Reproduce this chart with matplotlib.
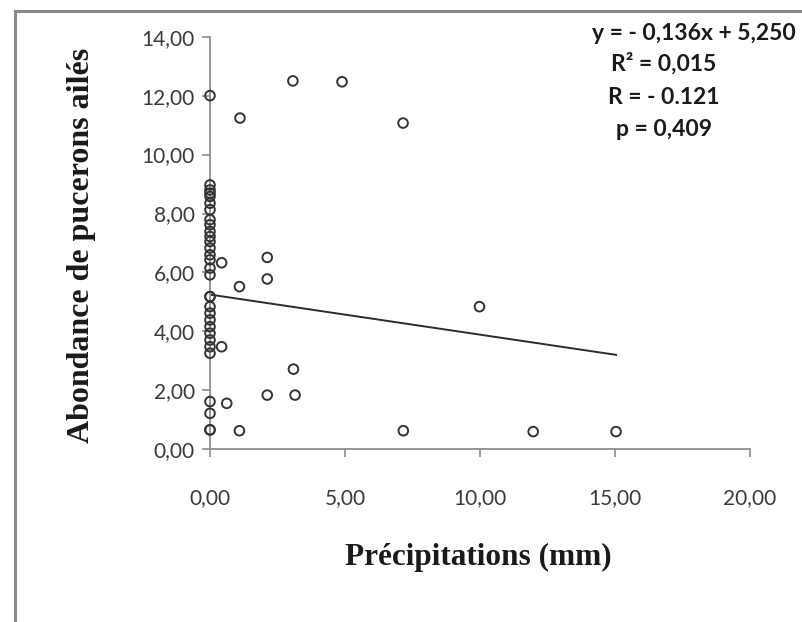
import numpy as np
import matplotlib
matplotlib.use("Agg")
import matplotlib.pyplot as plt
from matplotlib.patches import Rectangle

# rainfall (mm) vs winged aphid abundance
x_zero = [0.0] * 31
y_zero = [12.0, 8.97, 8.80, 8.69, 8.58, 8.35, 8.13, 7.79, 7.62, 7.39, 7.22,
          7.05, 6.83, 6.60, 6.43, 6.15, 5.92, 5.18, 5.18, 4.84, 4.62, 4.39,
          4.16, 3.94, 3.71, 3.48, 3.26, 1.62, 1.22, 0.66, 0.66]
x_other = [1.11, 3.07, 4.89, 7.15, 0.43, 2.12, 2.12, 1.09, 9.98, 0.43, 3.09,
           2.12, 3.15, 0.62, 1.09, 7.16, 11.97, 15.04]
y_other = [11.24, 12.50, 12.47, 11.07, 6.33, 6.51, 5.78, 5.52, 4.84, 3.48,
           2.72, 1.84, 1.84, 1.56, 0.63, 0.63, 0.60, 0.60]

precip = np.array(x_zero + x_other)
abond = np.array(y_zero + y_other)

slope, intercept = -0.136, 5.250
stats = ["y = - 0,136x + 5,250", "R² = 0,015", "R = - 0.121", "p = 0,409"]

fig = plt.figure(figsize=(8.03, 6.22), dpi=100)
fig.patch.set_facecolor("white")

# outer chart frame (left and top visible)
fig.patches.append(Rectangle((15 / 803, -0.1), 1.2, (622 - 11) / 622 + 0.1,
                             transform=fig.transFigure, fill=False,
                             edgecolor="#8a8a8a", linewidth=2.2))

ax = fig.add_axes([210 / 803, (622 - 449.3) / 622, 540 / 803, 412.6 / 622])
ax.scatter(precip, abond, s=48, facecolors="none", edgecolors="#333333",
           linewidths=1.4, zorder=3, clip_on=False)

xl = np.array([0, precip.max()])
ax.plot(xl, slope * xl + intercept, color="#2b2b2b", linewidth=1.4, zorder=2)

ax.set_xlim(0, 20)
ax.set_ylim(0, 14)
ax.set_xticks([0, 5, 10, 15, 20])
ax.set_yticks(np.arange(0, 15, 2))
fmt = lambda v: f"{v:.2f}".replace(".", ",")
ax.set_xticklabels([fmt(v) for v in [0, 5, 10, 15, 20]])
ax.set_yticklabels([fmt(v) for v in np.arange(0, 15, 2)])

for s in ["top", "right"]:
    ax.spines[s].set_visible(False)
for s in ["left", "bottom"]:
    ax.spines[s].set_color("#8c8c8c")
    ax.spines[s].set_linewidth(1.3)

ax.tick_params(axis="both", colors="#8c8c8c", length=6, width=1.2,
               labelcolor="#3a3a3a", labelsize=15)
ax.tick_params(axis="x", pad=22)
ax.tick_params(axis="y", pad=5)
for lab in ax.get_xticklabels() + ax.get_yticklabels():
    lab.set_family("Lato")

fig.text(478 / 803, 1 - 557 / 622, "Précipitations (mm)",
         family="Liberation Serif", fontweight="bold", fontsize=22.5,
         color="#1a1a1a", ha="center", va="center")
fig.text(82 / 803, 1 - 245 / 622, "Abondance de pucerons ailés",
         family="Liberation Serif", fontweight="bold", fontsize=23,
         color="#1a1a1a", ha="center", va="center", rotation=90)

fig.text(694 / 803, 1 - 33 / 622, stats[0], ha="center", va="center",
         family="Lato", fontweight="bold", fontsize=16.5, color="#1a1a1a")
for i, t in enumerate(stats[1:]):
    fig.text(664 / 803, 1 - (64 + i * 33) / 622, t, ha="center", va="center",
             family="Lato", fontweight="bold", fontsize=16.5, color="#1a1a1a")

fig.savefig("out.png", dpi=100)
